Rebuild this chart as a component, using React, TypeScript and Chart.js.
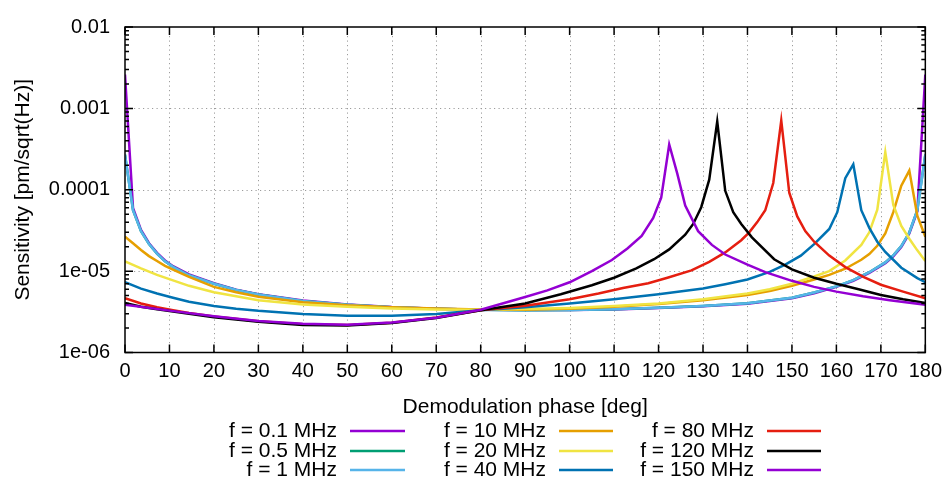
import { useEffect, useRef } from 'react';
import { Chart, registerables } from 'chart.js';

Chart.register(...registerables);

const FONT = '"Liberation Sans", Arial, Helvetica, sans-serif';

// ---- labels / colours ----
const seriesLabels = [
  'f = 0.1 MHz', 'f = 0.5 MHz', 'f = 1 MHz',
  'f = 10 MHz', 'f = 20 MHz', 'f = 40 MHz',
  'f = 80 MHz', 'f = 120 MHz', 'f = 150 MHz',
];
const seriesColors = [
  '#9400d3', '#009e73', '#56b4e9',
  '#e69f00', '#f0e442', '#0072b2',
  '#e51e10', '#000000', '#9400d3',
];

const xTitle = 'Demodulation phase [deg]';
const yTitle = 'Sensitivity [pm/sqrt(Hz)]';

const xTickValues = [0, 10, 20, 30, 40, 50, 60, 70, 80, 90, 100, 110, 120, 130, 140, 150, 160, 170, 180];
const yTickValues = [1e-6, 1e-5, 1e-4, 1e-3, 1e-2];
const yTickLabels = ['1e-06', '1e-05', '0.0001', '0.001', '0.01'];

// ---- data (phase in deg, sensitivity in pm/sqrt(Hz)) ----
const phaseLow = [0, 1.8, 3.6, 5.4, 7.2, 9, 10.8, 14.4, 20, 25, 30, 40, 50, 60, 70, 80, 90, 100, 110, 120, 130, 140, 150, 155, 160, 163.8, 167.4, 171, 172.8, 174.6, 176.4, 178.2, 180];
const sens01 = [2.6e-3, 6.0e-5, 3.2e-5, 2.2e-5, 1.68e-5, 1.35e-5, 1.15e-5, 9.1e-6, 7.1e-6, 5.9e-6, 5.2e-6, 4.35e-6, 3.9e-6, 3.62e-6, 3.46e-6, 3.36e-6, 3.32e-6, 3.32e-6, 3.38e-6, 3.52e-6, 3.7e-6, 3.98e-6, 4.65e-6, 5.35e-6, 6.4e-6, 7.6e-6, 9.5e-6, 1.25e-5, 1.52e-5, 1.98e-5, 2.9e-5, 5.4e-5, 2.6e-3];
const sens05 = [2.7e-4, 5.6e-5, 3.1e-5, 2.15e-5, 1.64e-5, 1.32e-5, 1.13e-5, 8.9e-6, 7.0e-6, 5.85e-6, 5.15e-6, 4.3e-6, 3.87e-6, 3.6e-6, 3.45e-6, 3.35e-6, 3.31e-6, 3.33e-6, 3.4e-6, 3.55e-6, 3.74e-6, 4.03e-6, 4.72e-6, 5.45e-6, 6.5e-6, 7.75e-6, 9.7e-6, 1.28e-5, 1.56e-5, 2.03e-5, 2.98e-5, 5.6e-5, 2.7e-4];
const sens1 = [2.7e-4, 5.6e-5, 3.1e-5, 2.15e-5, 1.64e-5, 1.32e-5, 1.13e-5, 8.9e-6, 7.0e-6, 5.85e-6, 5.15e-6, 4.3e-6, 3.87e-6, 3.6e-6, 3.45e-6, 3.35e-6, 3.31e-6, 3.33e-6, 3.4e-6, 3.55e-6, 3.74e-6, 4.03e-6, 4.72e-6, 5.45e-6, 6.5e-6, 7.75e-6, 9.7e-6, 1.28e-5, 1.56e-5, 2.03e-5, 2.98e-5, 5.6e-5, 2.7e-4];

const phase10 = [0, 1.8, 3.6, 5.4, 7.2, 9, 10.8, 14.4, 20, 25, 30, 40, 50, 60, 70, 80, 90, 100, 110, 120, 130, 140, 145, 150, 155, 158.4, 162, 165.6, 167.4, 169.2, 171, 172.8, 174.6, 176.4, 178.2, 180];
const sens10 = [2.65e-5, 2.2e-5, 1.82e-5, 1.53e-5, 1.33e-5, 1.16e-5, 1.04e-5, 8.5e-6, 6.4e-6, 5.5e-6, 4.85e-6, 4.15e-6, 3.8e-6, 3.6e-6, 3.47e-6, 3.37e-6, 3.36e-6, 3.45e-6, 3.65e-6, 3.95e-6, 4.4e-6, 5.1e-6, 5.7e-6, 6.6e-6, 7.9e-6, 9.0e-6, 1.07e-5, 1.38e-5, 1.62e-5, 2.05e-5, 2.9e-5, 5.3e-5, 1.12e-4, 1.72e-4, 4.8e-5, 2.65e-5];

const phase20 = [0, 3.6, 7.2, 10.8, 14.4, 20, 25, 30, 40, 50, 60, 70, 80, 90, 100, 110, 120, 130, 140, 145, 150, 155, 158.4, 162, 165.6, 167.4, 169.2, 171, 172.8, 174.6, 176.4, 178.2, 180];
const sens20 = [1.32e-5, 1.08e-5, 9.0e-6, 7.7e-6, 6.6e-6, 5.5e-6, 4.9e-6, 4.4e-6, 3.9e-6, 3.64e-6, 3.47e-6, 3.38e-6, 3.36e-6, 3.42e-6, 3.52e-6, 3.72e-6, 4.0e-6, 4.5e-6, 5.3e-6, 6.0e-6, 7.0e-6, 8.6e-6, 1.0e-5, 1.35e-5, 2.1e-5, 3.0e-5, 5.7e-5, 2.9e-4, 6.5e-5, 3.6e-5, 2.5e-5, 1.8e-5, 1.33e-5];

const phase40 = [0, 3.6, 7.2, 10.8, 14.4, 20, 25, 30, 40, 50, 60, 70, 80, 90, 100, 110, 120, 130, 135, 140, 145, 148.5, 152, 155, 158.4, 160.2, 162, 163.8, 165.6, 167.4, 169.2, 171, 174.6, 178.2, 180];
const sens40 = [7.3e-6, 6.1e-6, 5.3e-6, 4.7e-6, 4.2e-6, 3.72e-6, 3.45e-6, 3.25e-6, 2.97e-6, 2.83e-6, 2.82e-6, 2.97e-6, 3.3e-6, 3.6e-6, 4.0e-6, 4.5e-6, 5.2e-6, 6.1e-6, 6.9e-6, 7.9e-6, 9.8e-6, 1.2e-5, 1.55e-5, 2.15e-5, 3.3e-5, 5.3e-5, 1.39e-4, 2.05e-4, 5.6e-5, 3.4e-5, 2.3e-5, 1.72e-5, 1.1e-5, 8.2e-6, 7.3e-6];

const phase80 = [0, 3.6, 7.2, 10.8, 14.4, 20, 30, 40, 50, 60, 70, 80, 90, 100, 106.5, 112, 117.7, 122, 127.4, 131.4, 135, 138.6, 140.4, 142.2, 144, 145.8, 147.6, 149.4, 151.2, 153, 155, 158.4, 162, 166.3, 170, 175, 180];
const sens80 = [4.65e-6, 4.0e-6, 3.6e-6, 3.3e-6, 3.05e-6, 2.78e-6, 2.42e-6, 2.22e-6, 2.17e-6, 2.32e-6, 2.7e-6, 3.3e-6, 3.75e-6, 4.5e-6, 5.3e-6, 6.2e-6, 7.1e-6, 8.3e-6, 1.02e-5, 1.3e-5, 1.7e-5, 2.4e-5, 3.0e-5, 4.0e-5, 5.6e-5, 1.21e-4, 7.1e-4, 9.2e-5, 4.7e-5, 3.1e-5, 2.3e-5, 1.55e-5, 1.12e-5, 8.4e-6, 6.8e-6, 5.6e-6, 4.65e-6];

const phase120 = [0, 3.6, 7.2, 10.8, 14.4, 20, 30, 40, 50, 60, 70, 80, 90, 98, 105, 110, 115, 119, 122.4, 126, 127.8, 129.6, 131.4, 133.2, 135, 136.8, 138.6, 141, 146, 150, 155, 160, 165, 170, 175, 180];
const sens120 = [4.05e-6, 3.65e-6, 3.4e-6, 3.2e-6, 3.0e-6, 2.72e-6, 2.38e-6, 2.18e-6, 2.14e-6, 2.3e-6, 2.65e-6, 3.3e-6, 4.0e-6, 5.2e-6, 6.7e-6, 8.3e-6, 1.08e-5, 1.4e-5, 1.85e-5, 2.8e-5, 3.8e-5, 6.1e-5, 1.33e-4, 6.9e-4, 9.7e-5, 5.3e-5, 3.8e-5, 2.6e-5, 1.4e-5, 1.05e-5, 8.3e-6, 7.0e-6, 6.0e-6, 5.1e-6, 4.5e-6, 4.05e-6];

const phase150 = [0, 10, 20, 30, 40, 50, 60, 70, 80, 90, 95, 100, 105, 109.5, 113, 116.2, 118.8, 120.6, 122.4, 124.2, 126, 128.9, 132, 135, 140, 144, 150, 155, 160, 166, 172, 180];
const sens150 = [3.85e-6, 3.27e-6, 2.79e-6, 2.44e-6, 2.25e-6, 2.2e-6, 2.33e-6, 2.67e-6, 3.35e-6, 4.8e-6, 5.8e-6, 7.3e-6, 1.0e-5, 1.37e-5, 1.9e-5, 2.7e-5, 4.5e-5, 8.0e-5, 3.6e-4, 1.59e-4, 6.4e-5, 3.1e-5, 2.1e-5, 1.6e-5, 1.2e-5, 9.7e-6, 7.6e-6, 6.4e-6, 5.6e-6, 4.9e-6, 4.4e-6, 3.85e-6];

const seriesPhases = [phaseLow, phaseLow, phaseLow, phase10, phase20, phase40, phase80, phase120, phase150];
const seriesSens = [sens01, sens05, sens1, sens10, sens20, sens40, sens80, sens120, sens150];

// ---- gnuplot-like decorations: dotted grid, framed border with inward ticks, titles, key ----
const decorPlugin = {
  id: 'gnuplotDecor',
  beforeDatasetsDraw(chart: any) {
    const { ctx, chartArea: a } = chart;
    const xs = chart.scales.x;
    const ys = chart.scales.y;
    ctx.save();
    ctx.strokeStyle = '#9c9c9c';
    ctx.lineWidth = 1;
    ctx.setLineDash([1.2, 3.3]);
    ctx.beginPath();
    xTickValues.forEach((v) => {
      if (v <= xs.min || v >= xs.max) return;
      const px = Math.round(xs.getPixelForValue(v)) + 0.5;
      ctx.moveTo(px, a.top);
      ctx.lineTo(px, a.bottom);
    });
    yTickValues.forEach((v) => {
      if (v <= ys.min * 1.0001 || v >= ys.max * 0.9999) return;
      const py = Math.round(ys.getPixelForValue(v)) + 0.5;
      ctx.moveTo(a.left, py);
      ctx.lineTo(a.right, py);
    });
    ctx.stroke();
    ctx.restore();
  },
  afterDatasetsDraw(chart: any) {
    const { ctx, chartArea: a } = chart;
    const xs = chart.scales.x;
    const ys = chart.scales.y;
    ctx.save();
    ctx.strokeStyle = '#000';
    ctx.lineWidth = 1.5;
    ctx.setLineDash([]);
    ctx.strokeRect(a.left, a.top, a.right - a.left, a.bottom - a.top);
    ctx.beginPath();
    const major = 8;
    const minor = 4;
    xTickValues.forEach((v) => {
      const px = xs.getPixelForValue(v);
      ctx.moveTo(px, a.bottom);
      ctx.lineTo(px, a.bottom - major);
      ctx.moveTo(px, a.top);
      ctx.lineTo(px, a.top + major);
    });
    for (let d = -6; d <= -2; d++) {
      for (let k = 1; k <= 9; k++) {
        const v = k * Math.pow(10, d);
        if (v > 1.0001e-2) break;
        const py = ys.getPixelForValue(v);
        const len = k === 1 ? major : minor;
        ctx.moveTo(a.left, py);
        ctx.lineTo(a.left + len, py);
        ctx.moveTo(a.right, py);
        ctx.lineTo(a.right - len, py);
      }
    }
    ctx.stroke();
    ctx.restore();
  },
  afterDraw(chart: any) {
    const { ctx, chartArea: a } = chart;
    ctx.save();
    ctx.fillStyle = '#000';
    ctx.font = `21px ${FONT}`;
    ctx.textBaseline = 'middle';
    // axis titles
    ctx.textAlign = 'center';
    ctx.fillText(xTitle, (a.left + a.right) / 2, 407);
    ctx.save();
    ctx.translate(23, (a.top + a.bottom) / 2);
    ctx.rotate(-Math.PI / 2);
    ctx.fillText(yTitle, 0, 0);
    ctx.restore();
    // key: 3 columns, text right-aligned before the sample line
    const textRight = [337, 546, 754];
    const lineStart = [350, 559, 767];
    const lineEnd = [405, 613, 821];
    const rowY = [431, 451, 470];
    seriesLabels.forEach((label, i) => {
      const col = Math.floor(i / 3);
      const row = i % 3;
      ctx.textAlign = 'right';
      ctx.fillStyle = '#000';
      ctx.fillText(label, textRight[col], rowY[row]);
      ctx.strokeStyle = seriesColors[i];
      ctx.lineWidth = 2.5;
      ctx.beginPath();
      ctx.moveTo(lineStart[col], rowY[row]);
      ctx.lineTo(lineEnd[col], rowY[row]);
      ctx.stroke();
    });
    ctx.restore();
  },
};

export default function App() {
  const canvasRef = useRef<HTMLCanvasElement>(null);

  useEffect(() => {
    const canvas = canvasRef.current;
    if (!canvas) return;
    const chart = new Chart(canvas, {
      type: 'line',
      data: {
        datasets: seriesLabels.map((label, i) => ({
          label,
          data: seriesPhases[i].map((x, j) => ({ x, y: seriesSens[i][j] })),
          borderColor: seriesColors[i],
          backgroundColor: seriesColors[i],
          borderWidth: 2.5,
          pointRadius: 0,
          pointHoverRadius: 0,
          fill: false,
          tension: 0,
          order: -i,
        })),
      },
      options: {
        responsive: false,
        animation: false,
        devicePixelRatio: 1,
        events: [],
        layout: { padding: { left: 0, right: 21, top: 14.5, bottom: 0 } },
        plugins: {
          legend: { display: false },
          tooltip: { enabled: false },
          title: { display: false },
        },
        scales: {
          x: {
            type: 'linear',
            min: 0,
            max: 180,
            grid: { display: false, drawTicks: false, tickLength: 0 },
            border: { display: false },
            afterBuildTicks: (s: any) => {
              s.ticks = xTickValues.map((v) => ({ value: v }));
            },
            afterFit: (s: any) => {
              s.height = 127.5;
            },
            ticks: {
              autoSkip: false,
              maxRotation: 0,
              minRotation: 0,
              padding: 7,
              color: '#000',
              font: { family: FONT, size: 20 },
              callback: (v: any) => String(v),
            },
          },
          y: {
            type: 'logarithmic',
            min: 1e-6,
            max: 1e-2,
            grid: { display: false, drawTicks: false, tickLength: 0 },
            border: { display: false },
            afterBuildTicks: (s: any) => {
              s.ticks = yTickValues.map((v) => ({ value: v, major: true }));
            },
            afterFit: (s: any) => {
              s.width = 125;
            },
            ticks: {
              autoSkip: false,
              padding: 15,
              color: '#000',
              font: { family: FONT, size: 20 },
              callback: (v: any) => {
                const idx = yTickValues.findIndex((t) => Math.abs(Math.log10(t) - Math.log10(Number(v))) < 1e-6);
                return idx >= 0 ? yTickLabels[idx] : '';
              },
            },
          },
        },
      },
      plugins: [decorPlugin],
    } as any);
    return () => chart.destroy();
  }, []);

  return (
    <div style={{ position: 'fixed', left: 0, top: 0, width: 949, height: 480, background: '#fff' }}>
      <canvas ref={canvasRef} width={949} height={480} style={{ display: 'block', width: 949, height: 480 }} />
    </div>
  );
}
